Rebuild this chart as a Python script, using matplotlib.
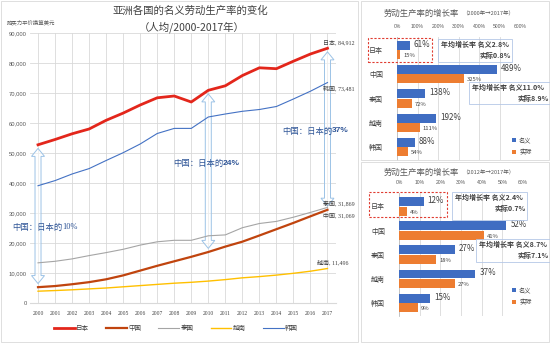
import numpy as np
import matplotlib
matplotlib.use('Agg')
import matplotlib.pyplot as plt
from matplotlib.patches import Rectangle, Polygon
from matplotlib.transforms import IdentityTransform

plt.rcParams['font.family'] = ['Noto Sans CJK SC', 'DejaVu Sans']

# nominal labour productivity per worker (PPP, USD)
years = list(range(2000, 2018))
japan = [52740, 54500, 56400, 58000, 60900, 63300, 66000, 68400, 69000, 67000,
         70900, 72400, 75810, 78400, 78100, 80600, 83000, 84912]
china = [5275, 5650, 6250, 6950, 7900, 9200, 10800, 12400, 13900, 15400,
         17000, 18800, 20440, 22500, 24600, 26700, 28900, 31069]
thai = [13390, 13900, 14700, 15800, 16800, 17900, 19300, 20400, 20900, 20900,
        22400, 22700, 25090, 26500, 27200, 28600, 30200, 31869]
vietnam = [3937, 4150, 4400, 4700, 5000, 5400, 5800, 6200, 6600, 6900,
           7300, 7800, 8390, 8800, 9300, 9900, 10600, 11496]
korea = [39090, 40800, 43000, 44800, 47500, 50100, 53000, 56500, 58200, 58200,
         62000, 63000, 63900, 64500, 65500, 68000, 70600, 73481]

# growth rates (%)
cats = ['日本', '中国', '泰国', '越南', '韩国']
nominal_0017 = [61, 489, 138, 192, 88]
real_0017 = [15, 325, 72, 111, 54]
nominal_1217 = [12, 52, 27, 37, 15]
real_1217 = [4, 41, 18, 27, 9]
annual_0017 = [('2.8%', '0.8%'), ('11.0%', '8.9%')]
annual_1217 = [('2.4%', '0.7%'), ('8.7%', '7.1%')]

W, H = 550, 343
fig = plt.figure(figsize=(W / 100, H / 100), dpi=100)

def rect(x0, y0, x1, y1):
    return [x0 / W, 1 - y1 / H, (x1 - x0) / W, (y1 - y0) / H]

def fx(x):
    return x / W

def fy(y):
    return 1 - y / H

GRID = '#D9D9D9'
TXT = '#404040'
BLUE = '#3F6DC2'
ORANGE = '#ED7D31'
NAVY = '#2F5597'
SERIF = ['Liberation Serif', 'Noto Sans CJK SC']

# panel frames
for x0, y0, x1, y1 in [(1, 1, 358, 342), (361, 1, 549, 160), (361, 162, 549, 342)]:
    fig.patches.append(Rectangle((fx(x0), fy(y1)), (x1 - x0) / W, (y1 - y0) / H,
                                 transform=fig.transFigure, fill=False, ec=GRID, lw=0.6))

# ---- left: line chart ----
ax = fig.add_axes(rect(29.5, 33, 336, 303))
ax.set_xlim(1999.5, 2017.5)
ax.set_ylim(0, 90000)
ax.set_xticks(years)
ax.set_xticklabels([str(y) for y in years], fontsize=4, family=SERIF, color=TXT)
ax.set_yticks(range(0, 90001, 10000))
ax.set_yticklabels(['{:,}'.format(v) for v in range(0, 90001, 10000)],
                   fontsize=4.2, family='Liberation Sans', color='#595959')
ax.tick_params(length=0)
ax.tick_params(axis='x', pad=6)
ax.tick_params(axis='y', pad=2)
ax.grid(color=GRID, lw=0.6)
ax.set_axisbelow(True)
for s in ['top', 'right', 'left']:
    ax.spines[s].set_visible(False)
ax.spines['bottom'].set_color(GRID)

series = [('日本', japan, '#E3261B', 2.0),
          ('中国', china, '#C0440E', 1.6),
          ('泰国', thai, '#A5A5A5', 0.8),
          ('越南', vietnam, '#FFC000', 1.0),
          ('韩国', korea, '#4472C4', 0.8)]
for name, vals, c, lw in series:
    ax.plot(years, vals, color=c, lw=lw, label=name, zorder=3)

# end-of-line labels
end_offsets = {'日本': (-4, 6), '中国': (-4, -6), '泰国': (-4, 4), '越南': (-10, 6), '韩国': (-4, -6)}
for name, vals, c, lw in series:
    dx, dy = end_offsets[name]
    ax.annotate('{}, {:,}'.format(name, vals[-1]), (years[-1], vals[-1]),
                xytext=(dx, dy), textcoords='offset pixels', fontsize=4.3,
                family=SERIF, color=TXT, va='center', ha='left', annotation_clip=False)

def double_arrow(ax, x, y_top, y_bot):
    px, pt = ax.transData.transform((x, y_top))
    _, pb = ax.transData.transform((x, y_bot))
    sw, hw, hl = 3, 6.5, 8
    verts = [(px, pt), (px + hw, pt - hl), (px + sw, pt - hl), (px + sw, pb + hl),
             (px + hw, pb + hl), (px, pb), (px - hw, pb + hl), (px - sw, pb + hl),
             (px - sw, pt - hl), (px - hw, pt - hl)]
    ax.add_patch(Polygon(verts, closed=True, transform=IdentityTransform(),
                         fc=(1, 1, 1, 0.5), ec='#9DC3E6', lw=0.7, clip_on=False, zorder=2))

ratio_text = [(2000, 12, 227, 'normal'), (2010, 173, 163, 'bold'), (2017, 282, 131, 'bold')]
for yr, tx, ty, wt in ratio_text:
    i = years.index(yr)
    double_arrow(ax, yr, japan[i] - 1200, china[i] + 1200)
    pct = round(china[i] / japan[i] * 100)
    fig.text(fx(tx), fy(ty), '中国：日本的', fontsize=6, color=NAVY,
             va='center', ha='left')
    fig.text(fx(tx + 50), fy(ty), '{}%'.format(pct), fontsize=6, color=NAVY,
             va='center', ha='left', family=SERIF if wt == 'normal' else 'Liberation Sans',
             weight=wt)

fig.text(fx(190), fy(11), '亚洲各国的名义劳动生产率的变化', fontsize=7.5, color=TXT,
         ha='center', va='center')
fig.text(fx(192), fy(27), '（人均/2000-2017年）', fontsize=7.5, color=TXT,
         ha='center', va='center')
fig.text(fx(7), fy(23), '购买力平价换算美元', fontsize=3.9, color='#595959',
         ha='left', va='center')

ax.legend(loc='center', bbox_to_anchor=(fx(176), fy(328)), bbox_transform=fig.transFigure,
          ncol=5, frameon=False, fontsize=4.7, handlelength=3.2, columnspacing=2.6,
          handletextpad=0.2, labelcolor=TXT)

# ---- right: growth rate bar charts ----
def growth_panel(x0, x1, y_top, y_bot, y_first, spacing, xmax, step, nominal, real):
    g = fig.add_axes(rect(x0, y_top, x1, y_bot))
    pos = np.arange(len(cats))
    g.set_ylim((y_bot - y_first) / spacing, (y_top - y_first) / spacing)
    g.set_xlim(0, xmax)
    b1 = g.barh(pos - 0.2, nominal, height=0.37, color=BLUE, label='名义', zorder=3)
    b2 = g.barh(pos + 0.19, real, height=0.37, color=ORANGE, label='实际', zorder=3)
    for p, v in zip(pos, nominal):
        g.annotate('{}%'.format(v), (v, p - 0.2), xytext=(4, 1), textcoords='offset pixels',
                   fontsize=5.8, color=TXT, va='center', ha='left')
    for p, v in zip(pos, real):
        g.annotate('{}%'.format(v), (v, p + 0.19), xytext=(3, -1), textcoords='offset pixels',
                   fontsize=4.2, color=TXT, va='center', ha='left')
    g.set_yticks(pos)
    g.set_yticklabels(cats, fontsize=5, color=TXT)
    ticks = np.arange(0, xmax + 1, step)
    g.set_xticks(ticks)
    g.set_xticklabels(['{}%'.format(t) for t in ticks], fontsize=3.6,
                      family='Liberation Sans', color='#595959')
    g.xaxis.tick_top()
    g.tick_params(length=0)
    g.tick_params(axis='x', pad=6)
    g.tick_params(axis='y', pad=10)
    g.grid(axis='x', color=GRID, lw=0.6)
    g.set_axisbelow(True)
    for s in ['top', 'right', 'bottom']:
        g.spines[s].set_visible(False)
    g.spines['left'].set_color('#BFBFBF')
    g.spines['left'].set_linewidth(0.6)
    return g, b1, b2

def framed(x0, y0, x1, y1, ec, ls='-', lw=0.6):
    fig.patches.append(Rectangle((fx(x0), fy(y1)), (x1 - x0) / W, (y1 - y0) / H,
                                 transform=fig.transFigure, fill=False, ec=ec, ls=ls,
                                 lw=lw, zorder=5))

def annual_box(x0, y0, x1, y1, nom, real):
    framed(x0, y0, x1, y1, '#B4C7E7')
    fig.text(fx(x0 + 3), fy(y0 + 5), '年均增长率 名义' + nom, fontsize=5, color=TXT,
             weight='bold', ha='left', va='center')
    fig.text(fx(x1 - 1), fy(y0 + 16), '实际' + real, fontsize=5, color=TXT,
             weight='bold', ha='right', va='center')

panels = [
    dict(x0=397, x1=520, y_top=37, y_bot=160, y_first=50, spacing=24.3, xmax=600, step=100,
         nominal=nominal_0017, real=real_0017, ty=13, period='（2000年→2017年）',
         annual=annual_0017, boxes=[(438, 39, 512, 62), (469, 82, 550, 104)],
         red=(368, 38, 432, 62), leg=146),
    dict(x0=399, x1=523, y_top=193, y_bot=316, y_first=206.5, spacing=24.1, xmax=60, step=10,
         nominal=nominal_1217, real=real_1217, ty=172, period='（2012年→2017年）',
         annual=annual_1217, boxes=[(452, 192, 527, 220), (476, 239, 550, 262)],
         red=(369, 192, 447, 217), leg=296),
]
for pn in panels:
    g, b1, b2 = growth_panel(pn['x0'], pn['x1'], pn['y_top'], pn['y_bot'], pn['y_first'],
                             pn['spacing'], pn['xmax'], pn['step'], pn['nominal'], pn['real'])
    fig.text(fx(384), fy(pn['ty']), '劳动生产率的增长率', fontsize=6, color='#595959',
             ha='left', va='center')
    fig.text(fx(462), fy(pn['ty'] + 1), pn['period'], fontsize=4, color='#595959',
             ha='left', va='center')
    framed(*pn['red'], ec='#E03C31', ls=(0, (2, 1.5)), lw=0.8)
    for (bx0, by0, bx1, by1), (nom, real) in zip(pn['boxes'], pn['annual']):
        annual_box(bx0, by0, bx1, by1, nom, real)
    g.legend(handles=[b1, b2], loc='center', bbox_to_anchor=(fx(522), fy(pn['leg'])),
             bbox_transform=fig.transFigure, frameon=False, fontsize=4.5,
             handlelength=0.6, handleheight=0.6, handletextpad=0.5, labelspacing=0.6,
             labelcolor=TXT)

fig.savefig('out.png', dpi=100)
